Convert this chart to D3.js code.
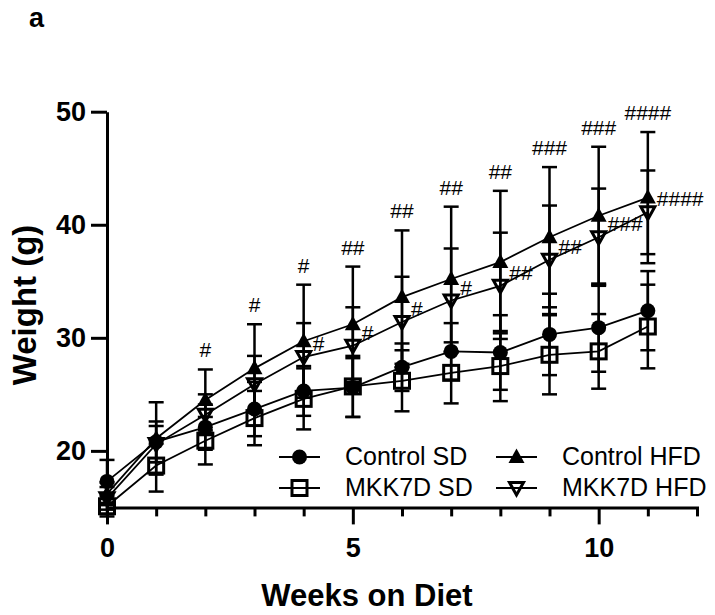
<!DOCTYPE html>
<html>
<head>
<meta charset="utf-8">
<script src="https://cdn.jsdelivr.net/npm/d3@7"></script>
<style>
  body { margin: 0; background: #fff; }
  svg { display: block; font-family: "Liberation Sans", Arial, sans-serif; }
</style>
</head>
<body>
<div id="chart"></div>
<script>
// weeks on diet
const weeks = [0, 1, 2, 3, 4, 5, 6, 7, 8, 9, 10, 11];
const xTicks = [0, 1, 2, 3, 4, 5, 6, 7, 8, 9, 10, 11, 12];
const xLabels = [0, 5, 10];
const yTicks = [20, 30, 40, 50];

// mean weight (g) and SD per group
const controlSD = [17.3, 20.8, 22.1, 23.7, 25.3, 25.6, 27.4, 28.8, 28.7, 30.3, 30.9, 32.4];
const controlSDErr = [1.9, 1.8, 2.0, 2.4, 2.2, 2.6, 2.1, 2.5, 3.3, 3.6, 3.9, 3.5];
const mkk7dSD = [15.1, 18.7, 20.9, 22.9, 24.6, 25.7, 26.2, 26.9, 27.5, 28.5, 28.8, 31.0];
const mkk7dSDErr = [0.9, 2.3, 2.1, 2.4, 2.7, 2.7, 2.7, 2.7, 3.1, 3.5, 3.3, 3.7];
const controlHFD = [16.2, 21.1, 24.5, 27.3, 29.7, 31.2, 33.6, 35.2, 36.7, 38.9, 40.8, 42.4];
const controlHFDErr = [1.0, 3.2, 2.7, 3.9, 5.0, 5.1, 5.9, 6.4, 6.3, 6.2, 6.1, 5.8];
const mkk7dHFD = [15.8, 20.6, 23.2, 25.9, 28.3, 29.3, 31.4, 33.3, 34.6, 36.9, 38.9, 41.1];
const mkk7dHFDErr = [1.0, 1.6, 1.8, 2.5, 3.0, 3.4, 4.0, 4.6, 4.7, 4.8, 4.3, 3.7];

// significance marks (HFD vs SD)
const topMarks = ["", "", "#", "#", "#", "##", "##", "##", "##", "###", "###", "####"];
const sideMarks = ["", "", "", "", "#", "#", "#", "#", "##", "##", "###", "####"];

const series = [
    { name: "Control SD", mean: controlSD, err: controlSDErr, shape: "circle" },
    { name: "MKK7D SD", mean: mkk7dSD, err: mkk7dSDErr, shape: "square" },
    { name: "Control HFD", mean: controlHFD, err: controlHFDErr, shape: "up" },
    { name: "MKK7D HFD", mean: mkk7dHFD, err: mkk7dHFDErr, shape: "down" }
];

const W = 715, H = 615;
const svg = d3.select("#chart").append("svg")
    .attr("width", W)
    .attr("height", H)
    .attr("viewBox", [0, 0, W, H]);

const x = d3.scaleLinear().domain([0, 12]).range([107, 697]);
const y = d3.scaleLinear().domain([15, 50]).range([507.4, 111.7]);

// draw a marker of a given shape into a group
function marker(g, shape, cx, cy) {
    if (shape === "circle") {
        g.append("circle").attr("cx", cx).attr("cy", cy).attr("r", 7.5).attr("fill", "#000");
    } else if (shape === "square") {
        g.append("rect").attr("x", cx - 7.5).attr("y", cy - 7.5).attr("width", 15).attr("height", 15)
            .attr("fill", "none").attr("stroke", "#000").attr("stroke-width", 3);
    } else if (shape === "up") {
        g.append("path").attr("d", `M${cx},${cy - 8.5}L${cx + 8},${cy + 6}L${cx - 8},${cy + 6}Z`)
            .attr("fill", "#000");
    } else {
        g.append("path").attr("d", `M${cx - 7},${cy - 5.5}L${cx + 7},${cy - 5.5}L${cx},${cy + 7}Z`)
            .attr("fill", "none").attr("stroke", "#000").attr("stroke-width", 3)
            .attr("stroke-linejoin", "miter");
    }
}

// error bars
const errG = svg.append("g").attr("stroke", "#000").attr("stroke-width", 2.5);
series.forEach(s => {
    weeks.forEach((w, i) => {
        const lo = y(s.mean[i] - s.err[i]), hi = y(s.mean[i] + s.err[i]);
        errG.append("line").attr("x1", x(w)).attr("x2", x(w)).attr("y1", lo).attr("y2", hi);
        errG.append("line").attr("x1", x(w) - 7.5).attr("x2", x(w) + 7.5).attr("y1", hi).attr("y2", hi);
        errG.append("line").attr("x1", x(w) - 7.5).attr("x2", x(w) + 7.5).attr("y1", lo).attr("y2", lo);
    });
});

// connecting lines
const line = d3.line().x((d, i) => x(weeks[i])).y(d => y(d));
series.forEach(s => {
    svg.append("path")
        .attr("d", line(s.mean))
        .attr("fill", "none")
        .attr("stroke", "#000")
        .attr("stroke-width", 1.8);
});

// markers
series.forEach(s => {
    const g = svg.append("g");
    weeks.forEach((w, i) => marker(g, s.shape, x(w), y(s.mean[i])));
});

// significance labels
const markG = svg.append("g")
    .attr("font-size", 21)
    .attr("fill", "#000");
weeks.forEach((w, i) => {
    if (topMarks[i]) {
        markG.append("text")
            .attr("x", x(w))
            .attr("y", y(controlHFD[i] + controlHFDErr[i]) - 12)
            .attr("text-anchor", "middle")
            .text(topMarks[i]);
    }
    if (sideMarks[i]) {
        markG.append("text")
            .attr("x", x(w) + 9)
            .attr("y", y(mkk7dHFD[i]) - 6)
            .attr("text-anchor", "start")
            .text(sideMarks[i]);
    }
});

// y axis
const yAxis = svg.append("g")
    .attr("transform", `translate(${x(0)},0)`)
    .call(d3.axisLeft(y).tickValues(yTicks).tickSize(16).tickSizeOuter(0).tickPadding(5));
yAxis.select(".domain").attr("stroke-width", 3);
yAxis.selectAll(".tick line").attr("stroke-width", 3);
yAxis.selectAll(".tick text")
    .attr("font-size", 27)
    .attr("font-weight", "bold")
    .attr("font-family", "'Liberation Sans', Arial, sans-serif")
    .attr("fill", "#000");

// x axis
const xAxis = svg.append("g")
    .attr("transform", `translate(0,${y(15)})`)
    .call(d3.axisBottom(x).tickValues(xTicks).tickSize(9).tickSizeOuter(0)
        .tickFormat(d => xLabels.includes(d) ? d : ""));
xAxis.select(".domain").attr("stroke-width", 3).attr("stroke-linecap", "square");
xAxis.selectAll(".tick line")
    .attr("stroke-width", 3)
    .attr("y2", d => xLabels.includes(d) ? 17 : 9);
xAxis.selectAll(".tick text")
    .attr("y", 50)
    .attr("dy", null)
    .attr("font-size", 27)
    .attr("font-weight", "bold")
    .attr("font-family", "'Liberation Sans', Arial, sans-serif")
    .attr("fill", "#000");

// axis titles
svg.append("text")
    .attr("x", 367)
    .attr("y", 606)
    .attr("text-anchor", "middle")
    .attr("font-size", 31)
    .attr("font-weight", "bold")
    .text("Weeks on Diet");

svg.append("text")
    .attr("transform", "translate(36,305) rotate(-90)")
    .attr("text-anchor", "middle")
    .attr("font-size", 33)
    .attr("font-weight", "bold")
    .text("Weight (g)");

svg.append("text")
    .attr("x", 29)
    .attr("y", 27)
    .attr("font-size", 27)
    .attr("font-weight", "bold")
    .text("a");

// legend
const legendPos = [
    { lx: 279, ly: 457 },
    { lx: 279, ly: 488 },
    { lx: 496, ly: 457 },
    { lx: 496, ly: 488 }
];
const legend = svg.append("g");
series.forEach((s, i) => {
    const p = legendPos[i];
    legend.append("line")
        .attr("x1", p.lx).attr("x2", p.lx + 41)
        .attr("y1", p.ly).attr("y2", p.ly)
        .attr("stroke", "#000").attr("stroke-width", 1.8);
    marker(legend, s.shape, p.lx + 20.5, p.ly);
    legend.append("text")
        .attr("x", p.lx + 66)
        .attr("y", p.ly + 8)
        .attr("font-size", 25)
        .text(s.name);
});
</script>
</body>
</html>
